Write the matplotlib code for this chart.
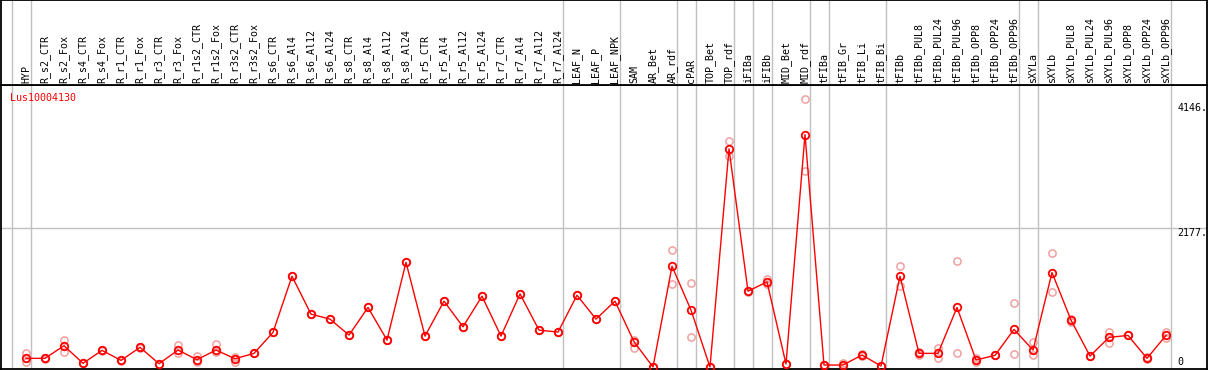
import matplotlib
matplotlib.use("Agg")
import matplotlib.pyplot as plt

W, H = 1209, 370

samples = ['HYP', 'R_s2_CTR', 'R_s2_Fox', 'R_s4_CTR', 'R_s4_Fox', 'R_r1_CTR', 'R_r1_Fox',
           'R_r3_CTR', 'R_r3_Fox', 'R_r1s2_CTR', 'R_r1s2_Fox', 'R_r3s2_CTR', 'R_r3s2_Fox',
           'R_s6_CTR', 'R_s6_Al4', 'R_s6_Al12', 'R_s6_Al24', 'R_s8_CTR', 'R_s8_Al4',
           'R_s8_Al12', 'R_s8_Al24', 'R_r5_CTR', 'R_r5_Al4', 'R_r5_Al12', 'R_r5_Al24',
           'R_r7_CTR', 'R_r7_Al4', 'R_r7_Al12', 'R_r7_Al24', 'LEAF_N', 'LEAF_P', 'LEAF_NPK',
           'SAM', 'AR_Bet', 'AR_rdf', 'cPAR', 'TOP_Bet', 'TOP_rdf', 'iFIBa', 'iFIBb',
           'MID_Bet', 'MID_rdf', 'tFIBa', 'tFIB_Gr', 'tFIB_Li', 'tFIB_Bi', 'tFIBb',
           'tFIBb_PUL8', 'tFIBb_PUL24', 'tFIBb_PUL96', 'tFIBb_OPP8', 'tFIBb_OPP24',
           'tFIBb_OPP96', 'sXYLa', 'sXYLb', 'sXYLb_PUL8', 'sXYLb_PUL24', 'sXYLb_PUL96',
           'sXYLb_OPP8', 'sXYLb_OPP24', 'sXYLb_OPP96']

means = [136, 136, 334, 58, 261, 104, 308, 52, 266, 115, 266, 130, 214,
         543, 1425, 830, 752, 501, 935, 423, 1644, 485, 1034, 631, 1112,
         485, 1148, 579, 548, 1127, 752, 1034,
         397, 0, 1582, 893, 0, 3425, 1190, 1336, 47, 3649,
         31, 31, 188, 16, 1425, 214, 214, 935, 110, 183, 590,
         266, 1483, 736, 172, 465, 496, 136, 496]

rep1 = [215, 140, 424, 58, 261, 104, 308, 52, 345, 177, 361, 162, 214,
        543, 1425, 830, 752, 501, 935, 423, 1644, 485, 1034, 631, 1112,
        485, 1148, 579, 548, 1127, 752, 1034,
        423, 0, 1832, 1320, 0, 3555, 1190, 1377, 47, 4208,
        31, 68, 210, 16, 1582, 240, 303, 1660, 140, 183, 997,
        397, 1796, 760, 172, 548, 496, 150, 548]

rep2 = [83, 130, 240, 58, 255, 100, 300, 50, 215, 83, 240, 74, 214,
        543, 1425, 830, 752, 501, 935, 423, 1644, 485, 1034, 631, 1112,
        485, 1148, 579, 548, 1127, 752, 1034,
        292, 0, 1310, 475, 0, 3305, 1185, 1303, 47, 3085,
        31, 20, 170, 16, 1268, 190, 136, 214, 80, 183, 198,
        183, 1170, 710, 172, 371, 496, 120, 450]

# group separators sit just after these sample indices
group_ends = [-1, 0, 28, 31, 34, 35, 37, 38, 39, 41, 42, 45, 52, 53, 60]

tick_vals = [0, 2177, 4146]
grid_vals = [2177]
gene = 'Lus10004130'

MONO = 'DejaVu Sans Mono'
FS = 7.2
GREY = '#c0c0c0'

x = list(range(len(samples)))

fig = plt.figure(figsize=(W / 100, H / 100), dpi=100)
left, width = 1 / W, 1206 / W
ax = fig.add_axes([left, 1 / H, width, 284 / H])
axh = fig.add_axes([left, 285 / H, width, 85 / H], sharex=ax)

# pixel -> index mapping: sample i sits at 26 + 19*i px
ax.set_xlim((1 - 26) / 19, (1207 - 26) / 19)
ax.set_ylim(-2 * 15.7, 282 * 15.7)
axh.set_ylim(0, 1)

for a in (ax, axh):
    a.set_xticks([])
    a.set_yticks([])
    for s in a.spines.values():
        s.set_color('black')
        s.set_linewidth(1.3)
    for g in group_ends:
        a.axvline(g + 0.25, color=GREY, lw=1, zorder=0)

for g in grid_vals:
    ax.axhline(g, color=GREY, lw=1, zorder=0)

# replicates
ax.plot(x, rep1, ls='none', marker='o', ms=5.2, mfc='none', mec='#f0a0a0', mew=1.1, zorder=2)
ax.plot(x, rep2, ls='none', marker='o', ms=5.2, mfc='none', mec='#f0a0a0', mew=1.1, zorder=2)
# means
ax.plot(x, means, color='#ff0000', lw=1, marker='o', ms=5.4, mfc='none',
        mec='#ff0000', mew=1.3, zorder=3, clip_on=False)

for i, lab in enumerate(samples):
    axh.text(i, 0.025, lab, rotation=90, ha='center', va='bottom',
             family=MONO, fontsize=FS, color='black')

for v in tick_vals:
    if v == 0:
        ax.text(0.9755, v, '0', transform=ax.get_yaxis_transform(),
                ha='left', va='bottom', family=MONO, fontsize=FS)
    else:
        ax.text(0.9755, v, f'{v}.', transform=ax.get_yaxis_transform(),
                ha='left', va='top', family=MONO, fontsize=FS)

ax.text(0.0075, 0.972, gene, transform=ax.transAxes, ha='left', va='top',
        family=MONO, fontsize=FS, color='#ff0000')

fig.savefig('out.png', dpi=100)
